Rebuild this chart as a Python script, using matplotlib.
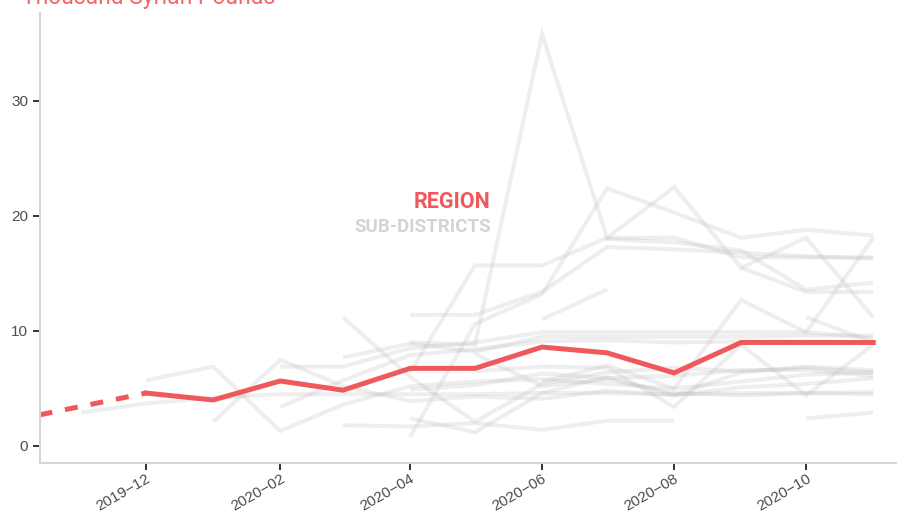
import numpy as np
import pandas as pd
import matplotlib
matplotlib.use("Agg")
import matplotlib.pyplot as plt
import matplotlib.dates as mdates

n = np.nan

# monthly dates, 2019-11 .. 2020-11
months = pd.date_range("2019-11-01", "2020-11-01", freq="MS")

# region (thousand SYP)
region = [n, 4.6, 4.0, 5.65, 4.85, 6.75, 6.75, 8.6, 8.1, 6.35, 9.0, 9.0, 9.0]
# dashed link back to the earlier observation
region_gap_dates = pd.to_datetime(["2019-10-01", "2019-12-01"])
region_gap = [2.25, 4.6]

# sub-district series
sd01 = [2.9, 3.7, 4.2, 4.5, 4.5, 4.5, 4.5, 4.6, 4.6, 4.5, 4.6, 4.6, 4.7]
sd02 = [n, 5.7, 6.9, 1.3, 3.6, 5.2, 5.6, 5.8, 5.4, 5.0, 5.6, 6.2, 6.4]
sd03 = [n, n, 2.1, 7.5, 5.2, 3.9, 4.3, 4.1, 4.8, 4.4, 5.1, 5.4, 5.9]
sd04 = [n, n, n, 6.9, 6.9, 8.5, 9.0, 9.9, 9.9, 9.9, 9.9, 9.9, 18.1]
sd05 = [n, n, n, 3.4, 5.7, 7.9, 8.4, 9.1, 9.2, 9.0, 9.1, 9.1, 9.0]
sd06 = [n, n, n, n, 11.2, 6.0, 2.1, 5.4, 6.4, 6.8, 6.5, 6.8, 6.4]
sd07 = [n, n, n, n, 1.8, 1.7, 2.0, 1.4, 2.2, 2.2, n, n, n]
sd08 = [n, n, n, n, n, 2.4, 1.2, 4.6, 6.0, 4.4, 6.4, 6.9, 6.6]
sd09 = [n, n, n, n, n, 9.0, 8.8, 35.8, 18.1, 22.5, 15.5, 18.1, 11.2]
sd10 = [n, n, n, n, n, 6.4, 15.7, 15.7, 18.1, 18.1, 16.4, 16.4, 16.4]
sd11 = [n, n, n, n, n, 11.4, 11.4, 13.4, 17.3, 17.1, 16.8, 16.5, 16.3]
sd12 = [n, n, n, n, n, 0.8, 10.6, 13.2, 22.4, 20.3, 18.1, 18.8, 18.3]
sd13 = [n, n, n, n, n, n, n, 11.0, 13.6, n, n, n, n]
sd14 = [n, n, n, n, n, n, n, n, 18.0, 17.7, 17.0, 13.6, 14.2]
sd15 = [n, n, n, n, n, n, n, n, n, n, 15.5, 13.4, 13.4]
sd16 = [n, n, n, n, n, n, n, 5.6, 7.0, 5.0, 12.7, 9.9, 9.4]
sd17 = [n, n, n, n, n, n, n, n, n, n, n, 11.2, 9.0]
sd18 = [n, n, n, n, n, n, 6.5, 6.9, 6.8, 3.4, 8.8, 4.4, 8.8]
sd19 = [n, n, n, n, n, n, n, n, n, n, n, 2.4, 2.9]
sd20 = [n, n, n, n, n, 4.9, 5.3, 6.3, 5.9, 6.1, 6.6, 6.6, 6.1]
sd21 = [n, n, n, n, 7.7, 8.9, 8.2, 9.5, 9.5, 9.5, 9.5, 9.6, 9.6]
sd22 = [n, n, n, n, n, n, 8.0, 5.2, 5.8, 4.6, 4.4, 4.6, 4.5]
sub_districts = [sd01, sd02, sd03, sd04, sd05, sd06, sd07, sd08, sd09, sd10, sd11,
                 sd12, sd13, sd14, sd15, sd16, sd17, sd18, sd19, sd20, sd21, sd22]

y_ticks = [0, 10, 20, 30]
x_ticks = pd.to_datetime(["2019-12-01", "2020-02-01", "2020-04-01",
                          "2020-06-01", "2020-08-01", "2020-10-01"])

RED = "#F0595C"

fig = plt.figure(figsize=(8.97, 5.21), dpi=100)
ax = fig.add_axes([40 / 897, 58 / 521, 857 / 897, 450 / 521])

for sd in sub_districts:
    ax.plot(months, sd, color="#bdbdbd", alpha=0.25, lw=2.9,
            solid_capstyle="butt", solid_joinstyle="miter")

ax.plot(region_gap_dates, region_gap, color=RED, lw=3.6,
        linestyle=(0, (2.6, 2.6)), dash_capstyle="butt")
ax.plot(months, region, color=RED, lw=3.6, solid_joinstyle="miter")

ax.set_xlim(pd.Timestamp("2019-10-13"), pd.Timestamp("2020-11-12"))
ax.set_ylim(-1.48, 37.65)

ax.set_yticks(y_ticks)
ax.set_xticks(x_ticks)
ax.xaxis.set_major_formatter(mdates.DateFormatter("%Y\u2212%m"))
for lab in ax.get_xticklabels():
    lab.set_rotation(30)
    lab.set_ha("right")
    lab.set_rotation_mode("anchor")

ax.tick_params(axis="both", colors="#333333", width=1.4, length=5,
               labelcolor="#4d4d4d", labelsize=11)
ax.tick_params(axis="x", pad=1)
for lab in ax.get_xticklabels() + ax.get_yticklabels():
    lab.set_fontfamily("Liberation Sans")

for side in ["top", "right"]:
    ax.spines[side].set_visible(False)
for side in ["left", "bottom"]:
    ax.spines[side].set_color("#d6d6d6")
    ax.spines[side].set_linewidth(1.5)

ax.text(0.526, 0.58, "REGION", transform=ax.transAxes, ha="right", va="center",
        color=RED, fontsize=15.5, fontweight="bold", family="Roboto")
ax.text(0.526, 0.524, "SUB-DISTRICTS", transform=ax.transAxes, ha="right",
        va="center", color="#d4d4d4", fontsize=13.5, fontweight="bold",
        family="Roboto")

fig.text(22 / 897, 1 - 4 / 521, "Thousand Syrian Pounds", ha="left",
         va="baseline", color="#F3676B", fontsize=16.5, family="Roboto")

fig.savefig("out.png", dpi=100)
